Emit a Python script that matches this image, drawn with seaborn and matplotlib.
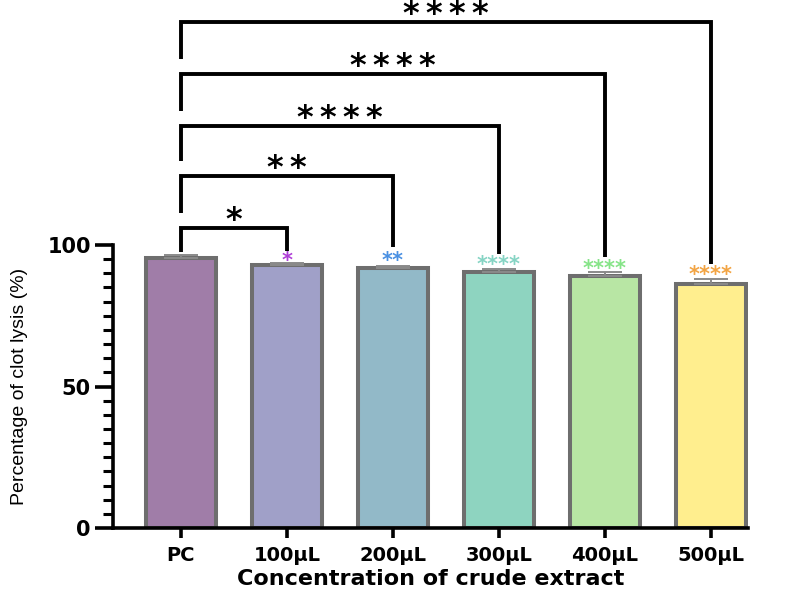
import numpy as np
import pandas as pd
import matplotlib
matplotlib.use("Agg")
import matplotlib.pyplot as plt
import seaborn as sns

# Data
groups = ["PC", "100µL", "200µL", "300µL", "400µL", "500µL"]
lysis = [95.5, 93.0, 92.0, 90.5, 89.0, 86.3]
sem = [1.0, 0.6, 0.6, 1.0, 1.3, 1.6]
bar_colors = ["#A07DA8", "#A0A0C8", "#92B9C8", "#8ED4C0", "#B8E6A4", "#FFEE8E"]

# significance vs PC
sig_labels = ["*", "**", "****", "****", "****"]
sig_colors = ["#B040D8", "#4A90E2", "#86D4C4", "#86E488", "#F2A444"]
bracket_y = [106.0, 124.4, 142.0, 160.4, 178.8]
bracket_end = [97.8, 99.3, 96.8, 95.8, 93.2]
small_star_y = [96.3, 96.3, 95.0, 93.6, 91.5]

df = pd.DataFrame({"group": groups, "lysis": lysis})

sns.set_style("ticks")
plt.rcParams["font.family"] = ["DejaVu Sans"]
for key in ["text.color", "axes.labelcolor", "xtick.color", "ytick.color", "axes.edgecolor"]:
    plt.rcParams[key] = "black"

fig = plt.figure(figsize=(7.86, 5.90), dpi=100)
ax = fig.add_axes([0.1438, 0.105, 0.808, 0.4797])

sns.barplot(data=df, x="group", y="lysis", hue="group", palette=bar_colors,
            legend=False, width=0.66, edgecolor="#6E6E6E", linewidth=2.9,
            saturation=1, errorbar=None, ax=ax, zorder=2)

xpos = np.arange(len(groups))
ax.errorbar(xpos, lysis, yerr=[np.zeros(len(sem)), sem], fmt="none",
            ecolor="#8A8A8A", elinewidth=1.4, capsize=12, capthick=1.4, zorder=3)

ax.set_xlim(-0.64, 5.35)
ax.set_ylim(0, 100)
ax.set_yticks([0, 50, 100])
ax.set_yticks(np.arange(0, 101, 5), minor=True)
ax.tick_params(axis="y", which="major", length=13, width=2.6, labelsize=15, pad=3)
ax.tick_params(axis="y", which="minor", length=7.5, width=2.2)
ax.tick_params(axis="x", length=7, width=2.6, labelsize=14, pad=6)
for lab in ax.get_xticklabels() + ax.get_yticklabels():
    lab.set_fontweight("bold")

sns.despine(ax=ax)
ax.spines["left"].set_linewidth(2.6)
ax.spines["bottom"].set_linewidth(2.6)

ax.set_xlabel("Concentration of crude extract", fontsize=16, fontweight="bold", labelpad=3)
ax.set_ylabel("Percentage of clot lysis (%)", fontsize=14, family="Liberation Sans", labelpad=14)

# brackets from PC to each concentration, each with its own left leg
left_end = [97.6] + [y + 5.3 for y in bracket_y[:-1]]
for i, (lab, yb, ye, yl) in enumerate(zip(sig_labels, bracket_y, bracket_end, left_end)):
    x2 = xpos[i + 1]
    ax.plot([0, 0, x2, x2], [yl, yb, yb, ye], color="black", lw=2.8,
            solid_joinstyle="miter", solid_capstyle="butt", clip_on=False, zorder=4)
    star = "\u2009".join(lab)
    ax.text((0 + x2) / 2, yb - 0.3, star, ha="center", va="baseline",
            fontsize=23, fontweight="bold", clip_on=False)

# small coloured stars over each treated bar
for i, (lab, c, ys) in enumerate(zip(sig_labels, sig_colors, small_star_y)):
    ax.text(xpos[i + 1], ys - 4.1, lab, ha="center", va="baseline",
            fontsize=15, color=c, fontweight="bold", clip_on=False)

fig.savefig("out.png", dpi=100)
